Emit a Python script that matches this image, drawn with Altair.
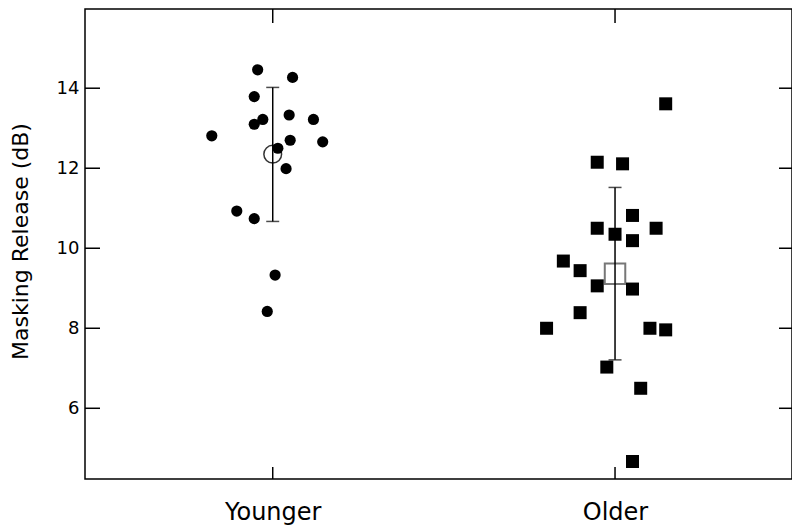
import altair as alt
import pandas as pd

groups = ["Younger", "Older"]
group_pos = [1, 2]

young_x = [0.956, 1.058, 0.946, 0.971, 0.946, 1.048, 1.119, 0.822, 1.051, 1.146,
           1.015, 1.039, 0.895, 0.946, 1.007, 0.984]
young_y = [14.46, 14.27, 13.79, 13.22, 13.10, 13.33, 13.22, 12.81, 12.70, 12.66,
           12.50, 11.99, 10.93, 10.74, 9.33, 8.42]

old_x = [2.148, 1.948, 2.022, 2.051, 1.948, 2.120, 2.000, 2.051, 1.849, 1.898,
         1.948, 2.051, 1.898, 1.800, 2.102, 2.148, 1.976, 2.075, 2.051]
old_y = [13.61, 12.15, 12.11, 10.82, 10.50, 10.50, 10.35, 10.19, 9.68, 9.44,
         9.06, 8.98, 8.39, 8.00, 8.00, 7.96, 7.03, 6.50, 4.67]

means = [12.35, 9.36]
err_low = [10.67, 7.21]
err_high = [14.02, 11.52]

y_ticks = [6, 8, 10, 12, 14]

W, H = 707, 470

young_df = pd.DataFrame({"x": young_x, "y": young_y})
old_df = pd.DataFrame({"x": old_x, "y": old_y})
summ = pd.DataFrame({"x": group_pos, "g": groups, "m": means, "lo": err_low, "hi": err_high})
yt_df = pd.DataFrame({"y": y_ticks})
xt_df = pd.DataFrame({"x": group_pos})

xs = alt.Scale(domain=[0.4516, 2.5170], nice=False, zero=False)
ys = alt.Scale(domain=[4.2325, 15.98], nice=False, zero=False)

label_expr = " : ".join(
    f"datum.value == {p} ? '{g}'" for p, g in zip(group_pos, groups)
) + " : ''"

x_axis = alt.Axis(values=group_pos, labelExpr=label_expr, title=None, ticks=False,
                  tickSize=0, domain=False, grid=False, labelFont="DejaVu Sans",
                  labelFontSize=24, labelColor="black", labelBaseline="alphabetic",
                  labelPadding=40)
y_axis = alt.Axis(values=y_ticks, title="Masking Release (dB)", ticks=False, tickSize=0,
                  domain=False, grid=False, labelFont="DejaVu Sans", labelFontSize=18,
                  labelColor="black", labelPadding=6, titleFont="DejaVu Sans",
                  titleFontSize=22, titleFontWeight="normal", titleColor="black",
                  titleAngle=270, titleBaseline="alphabetic", titleAlign="center",
                  titleX=-58, titleY=232)

def X(f="x"):
    return alt.X(f"{f}:Q", scale=xs, axis=x_axis)

def Y(f="y"):
    return alt.Y(f"{f}:Q", scale=ys, axis=y_axis)

mean_circle = alt.Chart(summ[summ.g == "Younger"]).mark_point(
    shape="circle", size=314, filled=False, stroke="#333333", strokeWidth=1.5, opacity=1
).encode(x=X(), y=Y("m"))

mean_square = alt.Chart(summ[summ.g == "Older"]).mark_point(
    shape="square", size=420, filled=False, stroke="#777777", strokeWidth=2, opacity=1
).encode(x=X(), y=Y("m"))

err = alt.Chart(summ).mark_rule(color="black", strokeWidth=1.5).encode(
    x=X(), y=Y("lo"), y2="hi:Q")
cap_lo = alt.Chart(summ).mark_tick(orient="horizontal", size=13, thickness=1.5, color="black").encode(
    x=X(), y=Y("lo"))
cap_hi = alt.Chart(summ).mark_tick(orient="horizontal", size=13, thickness=1.5, color="black").encode(
    x=X(), y=Y("hi"))

young_pts = alt.Chart(young_df).mark_point(
    shape="circle", size=125, filled=True, color="black", opacity=1
).encode(x=X(), y=Y())
old_pts = alt.Chart(old_df).mark_point(
    shape="square", size=169, filled=True, color="black", opacity=1
).encode(x=X(), y=Y())

tick_left = alt.Chart(yt_df).mark_rule(color="black", strokeWidth=1.5).encode(
    y=Y(), x=alt.value(0), x2=alt.value(15))
tick_right = alt.Chart(yt_df).mark_rule(color="black", strokeWidth=1.5).encode(
    y=Y(), x=alt.value(W - 13), x2=alt.value(W))
tick_top = alt.Chart(xt_df).mark_rule(color="black", strokeWidth=1.5).encode(
    x=X(), y=alt.value(0), y2=alt.value(14))
tick_bot = alt.Chart(xt_df).mark_rule(color="black", strokeWidth=1.5).encode(
    x=X(), y=alt.value(H - 12), y2=alt.value(H))

chart = alt.layer(
    mean_circle, mean_square, err, cap_lo, cap_hi, young_pts, old_pts,
    tick_left, tick_right, tick_top, tick_bot
).properties(
    width=W, height=H,
    autosize=alt.AutoSizeParams(type="none"),
    padding={"left": 77, "top": 1, "right": 0, "bottom": 48},
).configure(background="white").configure_view(stroke="black", strokeWidth=1.5)

chart.save("out.html", embed_options={"renderer": "svg", "actions": False})
